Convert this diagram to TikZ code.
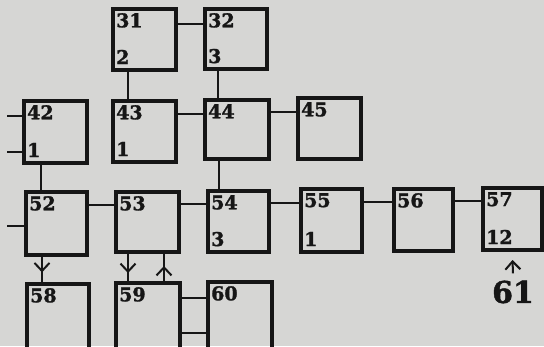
\documentclass[tikz,border=0pt]{standalone}
\usepackage{fontspec}
\setmainfont{DejaVu Serif}[BoldFeatures={FakeBold=1.5}]
\usetikzlibrary{calc,arrows.meta,decorations.markings}
\definecolor{paper}{RGB}{214,214,212}
\definecolor{ink}{RGB}{22,22,22}
\tikzset{
  box/.style={draw=ink, line width=3.4pt, rectangle, inner sep=0pt, outer sep=0pt, anchor=north west},
  num/.style={inner sep=0pt, text=ink, font=\bfseries\fontsize{19}{19}\selectfont},
  bignum/.style={inner sep=0pt, text=ink, font=\bfseries\fontsize{30}{30}\selectfont},
  conn/.style={draw=ink, line width=2pt},
  midarrow/.style={postaction={decorate}, decoration={markings, mark=at position #1 with {\arrow[ink, line width=2pt]{Straight Barb[length=8pt,width=15pt]}}}}
}
\newcommand{\bx}[5]{\node[box, minimum width={(#4-#2)*1pt}, minimum height={(#5-#3)*1pt}] (#1) at (#2,#3) {};}
\newcommand{\toplab}[2]{\node[num, anchor=north west] (t#1) at ($(#1.north west)+(3,4)$) {#2};}
\newcommand{\botlab}[3]{\node[num, anchor=base west] (#1) at ($(#2.south west)+(3,-6)$) {#3};}
% horizontal connector: name, left box, right box, offset below top of left box
\newcommand{\hcon}[4]{\coordinate (#1) at ($(#2.north east)+(0,#4)$); \draw[conn] (#1) -- (#1 -| #3.west);}
% vertical connector: name, upper box, lower box, offset right of left edge of upper box
\newcommand{\vcon}[4]{\coordinate (#1) at ($(#2.south west)+(#4,0)$); \draw[conn] (#1) -- (#1 |- #3.north);}
\begin{document}
\begin{tikzpicture}[x=1pt,y=-1pt]
\fill[paper] (0,0) rectangle (544,346);
\useasboundingbox (0,0) rectangle (544,346);
\clip (0,0) rectangle (544,346);
% boxes
\bx{b31}{113}{9}{176}{70}
\bx{b32}{205}{9}{267}{69}
\bx{b42}{24}{101}{87}{163}
\bx{b43}{113}{101}{176}{162}
\bx{b44}{205}{100}{269}{159}
\bx{b45}{298}{98}{361}{159}
\bx{b52}{26}{192}{87}{255}
\bx{b53}{116}{192}{179}{252}
\bx{b54}{208}{191}{269}{252}
\bx{b55}{301}{189}{362}{252}
\bx{b56}{394}{189}{453}{251}
\bx{b57}{483}{188}{542}{250}
\bx{b58}{27}{284}{89}{360}
\bx{b59}{116}{283}{180}{360}
\bx{b60}{208}{282}{272}{360}
% labels
\toplab{b31}{31}\botlab{l31}{b31}{2}
\toplab{b32}{32}\botlab{l32}{b32}{3}
\toplab{b42}{42}\botlab{l42}{b42}{1}
\toplab{b43}{43}\botlab{l43}{b43}{1}
\toplab{b44}{44}
\toplab{b45}{45}
\toplab{b52}{52}
\toplab{b53}{53}
\toplab{b54}{54}\botlab{l54}{b54}{3}
\toplab{b55}{55}\botlab{l55}{b55}{1}
\toplab{b56}{56}
\toplab{b57}{57}\botlab{l57}{b57}{12}
\toplab{b58}{58}
\toplab{b59}{59}
\toplab{b60}{60}
\node[bignum] (t61) at (513,292) {61};
% connectors
\hcon{h3132}{b31}{b32}{15}
\vcon{v3143}{b31}{b43}{15}
\vcon{v3244}{b32}{b44}{13}
\coordinate (s42a) at (7,116);
\coordinate (s42b) at (7,152);
\draw[conn] (s42a) -- (s42a -| b42.west);
\draw[conn] (s42b) -- (s42b -| b42.west);
\hcon{h4344}{b43}{b44}{13}
\hcon{h4445}{b44}{b45}{12}
\vcon{v4252}{b42}{b52}{17}
\vcon{v4454}{b44}{b54}{14}
\coordinate (s52) at (7,226);
\draw[conn] (s52) -- (s52 -| b52.west);
\hcon{h5253}{b52}{b53}{13}
\hcon{h5354}{b53}{b54}{12}
\hcon{h5455}{b54}{b55}{12}
\hcon{h5556}{b55}{b56}{13}
\hcon{h5657}{b56}{b57}{12}
\coordinate (v5258) at ($(b52.south west)+(16,0)$);
\draw[conn, midarrow=0.6] (v5258) -- (v5258 |- b58.north);
\coordinate (v5359) at ($(b53.south west)+(12,0)$);
\draw[conn, midarrow=0.68] (v5359) -- (v5359 |- b59.north);
\coordinate (v5953) at ($(b59.north west)+(48,0)$);
\draw[conn, midarrow=0.55] (v5953) -- (v5953 |- b53.south);
\hcon{h5960a}{b59}{b60}{15}
\hcon{h5960b}{b59}{b60}{50}
\coordinate (a61) at ($(t61.north)+(0,-7)$);
\draw[conn, -{Straight Barb[length=8pt,width=15pt]}] (a61) -- ($(b57.south)+(0,10)$);
\end{tikzpicture}
\end{document}
